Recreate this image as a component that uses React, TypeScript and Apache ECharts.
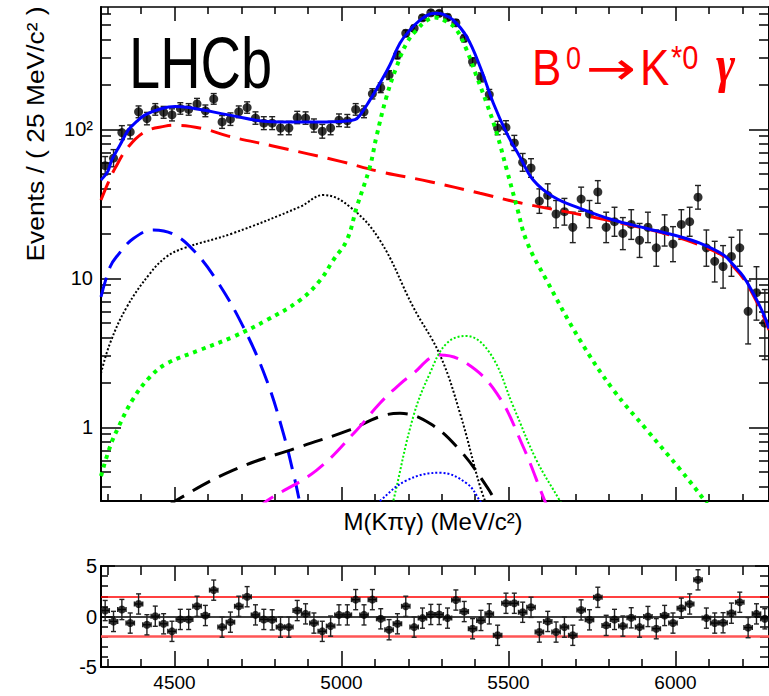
import React, { useEffect, useRef } from "react";
import * as echarts from "echarts";

const FONT = "'Liberation Sans', Arial, Helvetica, sans-serif";

// ---- binned data (25 MeV bins) ----
const binCenters = [
  4292.5, 4317.5, 4342.5, 4367.5, 4392.5, 4417.5, 4442.5, 4467.5, 4492.5, 4517.5,
  4542.5, 4567.5, 4592.5, 4617.5, 4642.5, 4667.5, 4692.5, 4717.5, 4742.5, 4767.5,
  4792.5, 4817.5, 4842.5, 4867.5, 4892.5, 4917.5, 4942.5, 4967.5, 4992.5, 5017.5,
  5042.5, 5067.5, 5092.5, 5117.5, 5142.5, 5167.5, 5192.5, 5217.5, 5242.5, 5267.5,
  5292.5, 5317.5, 5342.5, 5367.5, 5392.5, 5417.5, 5442.5, 5467.5, 5492.5, 5517.5,
  5542.5, 5567.5, 5592.5, 5617.5, 5642.5, 5667.5, 5692.5, 5717.5, 5742.5, 5767.5,
  5792.5, 5817.5, 5842.5, 5867.5, 5892.5, 5917.5, 5942.5, 5967.5, 5992.5, 6017.5,
  6042.5, 6067.5, 6092.5, 6117.5, 6142.5, 6167.5, 6192.5, 6217.5, 6242.5, 6267.5,
];

const eventCounts = [
  57, 64, 95, 96, 131, 118, 136, 130, 125, 138,
  136, 148, 133, 160, 112, 117, 131, 140, 119, 110,
  110, 102, 102, 120, 119, 106, 97, 102, 115, 114,
  136, 131, 173, 190, 231, 315, 441, 476, 560, 605,
  600, 565, 519, 408, 284, 223, 171, 102, 103, 81,
  60, 55, 33, 36, 27, 28, 22, 34, 27, 38,
  22, 24, 20, 23, 18, 22, 16, 21, 17, 23,
  24, 35, 16, 13, 12, 14, 16, 6, 8, 5,
];

const pulls = [
  0.59, -0.49, 0.69, -0.65, 1.24, -0.82, 0.03, -0.72, -1.47, -0.29,
  -0.29, 1.01, 0.1, 2.61, -1.05, -0.56, 1.01, 1.96, 0.16, -0.29,
  -0.33, -1.05, -1.05, 0.59, 0.26, -0.65, -1.47, -0.95, 0.16, 0.16,
  1.67, 0.16, 1.67, -0.23, -1.31, -0.72, 1.01, -1.05, -0.16, 0.2,
  0.2, -0.16, 1.63, 0.49, -1.21, -0.39, 0.26, -1.86, 1.31, 1.31,
  0.42, 0.91, -1.54, -0.49, -1.54, -1.05, -1.86, 0.65, -0.33, 1.9,
  -0.88, -0.29, -0.95, -0.13, -1.05, 0.0, -1.21, 0.1, -0.65, 0.82,
  1.24, 3.63, -0.16, -0.65, -0.62, 0.33, 1.41, -1.1, 0.26, -0.23,
];

// ---- fit curves ----
const totalFitMass = [4280, 4300, 4312, 4337, 4362, 4387, 4412, 4462, 4502, 4561, 4661, 4791, 4900, 5000, 5040, 5055, 5085, 5115, 5145, 5175, 5205, 5235, 5265, 5285, 5305, 5335, 5375, 5415, 5455, 5495, 5534, 5574, 5634, 5714, 5814, 5914, 6014, 6073, 6143, 6173, 6203, 6233, 6263, 6280];
const totalFitValue = [45.7, 52, 62, 78.5, 99, 113, 125, 138, 142, 138, 125, 112.5, 112, 113, 116, 124, 157, 204, 270, 378, 464, 541, 594, 602, 590, 541, 418, 263, 149, 94, 65.5, 45.7, 35.3, 29.5, 24.6, 21.6, 19.0, 17.2, 14.4, 12.3, 10.3, 7.9, 5.8, 4.6];

const combBkgMass = [4280, 4300, 4322, 4362, 4412, 4472, 4502, 4581, 4661, 4791, 4900, 5000, 5115, 5265, 5415, 5534, 5743, 5963, 6073, 6143, 6173, 6203, 6233, 6263, 6280];
const combBkgValue = [33.5, 43, 54.7, 76.4, 96.4, 105, 106.4, 101.6, 90, 77.6, 68.4, 60.7, 52, 44.5, 37.2, 32.1, 26, 20.1, 16.7, 14.1, 12.0, 10.0, 7.7, 5.6, 4.5];

const signalMass = [4280, 4307, 4332, 4377, 4427, 4477, 4576, 4676, 4776, 4876, 4936, 4975, 5016, 5046, 5085, 5105, 5135, 5165, 5195, 5225, 5255, 5280, 5315, 5345, 5375, 5405, 5435, 5465, 5495, 5525, 5555, 5614, 5714, 5814, 5914, 6014, 6088, 6150];
const signalValue = [0.47, 0.74, 1.0, 1.56, 2.18, 2.68, 3.3, 4.05, 5.24, 7.14, 9.7, 13.2, 18.0, 30.2, 56, 90, 166, 263, 378, 464, 536, 562, 527, 464, 340, 225, 149, 94, 53.4, 30.2, 17.6, 9.7, 3.85, 1.78, 0.96, 0.52, 0.32, 0.2];

const partRecoMass = [4280, 4307, 4357, 4427, 4477, 4527, 4676, 4876, 4946, 5025, 5115, 5215, 5295, 5355, 5415, 5440];
const partRecoValue = [2.3, 3.66, 6.4, 10.8, 14.0, 15.9, 20.1, 30.2, 36.2, 30.2, 18.0, 6.4, 3.05, 1.24, 0.4, 0.28];

const lowMassMass = [4280, 4307, 4327, 4377, 4437, 4496, 4556, 4626, 4706, 4776, 4826, 4856, 4874, 4890];
const lowMassValue = [7.5, 11.9, 14.0, 18.5, 21.1, 19.8, 15.5, 9.7, 4.72, 2.07, 0.91, 0.49, 0.32, 0.2];

const blackDashMass = [4480, 4502, 4676, 4876, 5025, 5115, 5175, 5265, 5355, 5435, 5460, 5475];
const blackDashValue = [0.29, 0.32, 0.516, 0.74, 0.96, 1.18, 1.24, 1.06, 0.7, 0.4, 0.32, 0.27];

const magentaMass = [4750, 4776, 4926, 5046, 5115, 5175, 5205, 5295, 5375, 5465, 5544, 5609, 5625];
const magentaValue = [0.28, 0.32, 0.516, 0.96, 1.45, 1.95, 2.2, 3.05, 2.68, 1.69, 0.74, 0.32, 0.27];

const greenThinMass = [5145, 5155, 5215, 5265, 5315, 5373, 5445, 5515, 5584, 5654, 5670];
const greenThinValue = [0.27, 0.32, 1.18, 2.31, 3.66, 4.1, 3.13, 1.37, 0.6, 0.32, 0.27];

const blueDotMass = [5100, 5115, 5195, 5295, 5375, 5415, 5425];
const blueDotValue = [0.29, 0.32, 0.44, 0.495, 0.42, 0.32, 0.29];

// ---- ticks ----
const xMajorTicks = [4500, 5000, 5500, 6000];
const xMinorTicks = [4300, 4400, 4600, 4700, 4800, 4900, 5100, 5200, 5300, 5400, 5600, 5700, 5800, 5900, 6100, 6200];
const yMajorTicks = [1, 10, 100];
const yMinorTicks = [0.4, 0.5, 0.6, 0.7, 0.8, 0.9, 2, 3, 4, 5, 6, 7, 8, 9, 20, 30, 40, 50, 60, 70, 80, 90, 200, 300, 400, 500, 600];
const pullMajorTicks = [-5, 0, 5];
const pullMinorTicks = [-4, -3, -2, -1, 1, 2, 3, 4];
const pullBands = [-2, 2];

const MASS_MIN = 4280;
const MASS_MAX = 6280;
const BIN_HALF = 12.5;

const poissonHigh = (n: number) => n + 1 + Math.sqrt(n + 0.75);
const poissonLow = (n: number) => n * Math.pow(1 - 1 / (9 * n) - 1 / (3 * Math.sqrt(n)), 3);

function massAxis(gridIndex: number, position: string, ticks: number[], length: number, showLine: boolean, lineWidth: number, label?: any) {
  return {
    type: "value",
    gridIndex,
    position,
    min: MASS_MIN,
    max: MASS_MAX,
    axisLine: { show: showLine, onZero: false, lineStyle: { color: "#000", width: lineWidth } },
    axisTick: { show: true, inside: true, length, customValues: ticks, lineStyle: { color: "#000", width: 1.5 } },
    axisLabel: label ? label : { show: false },
    splitLine: { show: false },
  };
}

function logAxis(position: string, ticks: number[], length: number, showLine: boolean, label?: any) {
  return {
    type: "log",
    logBase: 10,
    gridIndex: 0,
    position,
    min: 0.32,
    max: 662,
    axisLine: { show: showLine, onZero: false, lineStyle: { color: "#000", width: 2 } },
    axisTick: { show: true, inside: true, length, customValues: ticks, lineStyle: { color: "#000", width: 1.5 } },
    axisLabel: label ? label : { show: false },
    splitLine: { show: false },
  };
}

function pullAxis(position: string, ticks: number[], length: number, showLine: boolean, label?: any) {
  return {
    type: "value",
    gridIndex: 1,
    position,
    min: -5,
    max: 5,
    axisLine: { show: showLine, onZero: false, lineStyle: { color: "#000", width: 2 } },
    axisTick: { show: true, inside: true, length, customValues: ticks, lineStyle: { color: "#000", width: 1.5 } },
    axisLabel: label ? label : { show: false },
    splitLine: { show: false },
  };
}

function curve(name: string, xs: number[], ys: number[], color: string, width: number, dash: any, z: number) {
  return {
    type: "line",
    name,
    xAxisIndex: 0,
    yAxisIndex: 0,
    data: xs.map((x, i) => [x, ys[i]]),
    showSymbol: false,
    symbol: "none",
    smooth: 0.4,
    clip: true,
    silent: true,
    z,
    lineStyle: { color, width, type: dash, cap: "butt" },
  };
}

const barStyle = { stroke: "#222", lineWidth: 1.4 };

const txt = (text: string, fill: string, fontSize: number, extra: any = {}) => ({
  text,
  fill,
  fontSize,
  fontFamily: FONT,
  textAlign: "left",
  textVerticalAlign: "middle",
  align: "left",
  verticalAlign: "middle",
  ...extra,
});

export default function App() {
  const ref = useRef<HTMLDivElement>(null);

  useEffect(() => {
    if (!ref.current) return;
    const chart = echarts.init(ref.current, undefined, { renderer: "svg" });

    const option: any = {
      animation: false,
      textStyle: { fontFamily: FONT },
      grid: [
        { left: 101, top: 7, right: 0, height: 494, outerBoundsMode: "none" },
        { left: 101, top: 566, right: 0, height: 101, outerBoundsMode: "none" },
      ],
      xAxis: [
        massAxis(0, "bottom", xMajorTicks, 14, true, 2),
        massAxis(0, "bottom", xMinorTicks, 7, false, 2),
        massAxis(0, "top", xMajorTicks, 14, true, 1.5),
        massAxis(0, "top", xMinorTicks, 7, false, 1.5),
        massAxis(1, "bottom", xMajorTicks, 16, true, 2, {
          show: true,
          customValues: xMajorTicks,
          formatter: (v: number) => String(v),
          color: "#000",
          fontSize: 19,
          fontFamily: FONT,
          margin: 6,
        }),
        massAxis(1, "bottom", xMinorTicks, 8, false, 2),
        massAxis(1, "top", xMajorTicks, 15, true, 1.5),
        massAxis(1, "top", xMinorTicks, 9, false, 1.5),
      ],
      yAxis: [
        logAxis("left", yMajorTicks, 20, true, {
          show: true,
          customValues: yMajorTicks,
          formatter: (v: number) => (v >= 100 ? "10²" : String(v)),
          color: "#000",
          fontSize: 20,
          fontFamily: FONT,
          margin: 8,
        }),
        logAxis("left", yMinorTicks, 10, false),
        logAxis("right", yMajorTicks, 20, true),
        logAxis("right", yMinorTicks, 10, false),
        pullAxis("left", pullMajorTicks, 14, true, {
          show: true,
          customValues: pullMajorTicks,
          formatter: (v: number) => String(v),
          color: "#000",
          fontSize: 20,
          fontFamily: FONT,
          margin: 4,
        }),
        pullAxis("left", pullMinorTicks, 7, false),
        pullAxis("right", pullMajorTicks, 14, true),
        pullAxis("right", pullMinorTicks, 9, false),
      ],
      series: [
        {
          type: "custom",
          name: "data errors",
          xAxisIndex: 0,
          yAxisIndex: 0,
          clip: true,
          silent: true,
          z: 2,
          encode: { x: 0, y: 1 },
          data: binCenters.map((x, i) => [x, eventCounts[i], poissonLow(eventCounts[i]), poissonHigh(eventCounts[i])]),
          renderItem: (params: any, api: any) => {
            const x = api.value(0);
            const lo = api.coord([x, api.value(2)]);
            const hi = api.coord([x, api.value(3)]);
            const c = 3;
            return {
              type: "group",
              children: [
                { type: "line", shape: { x1: lo[0], y1: lo[1], x2: hi[0], y2: hi[1] }, style: barStyle },
                { type: "line", shape: { x1: lo[0] - c, y1: lo[1], x2: lo[0] + c, y2: lo[1] }, style: barStyle },
                { type: "line", shape: { x1: hi[0] - c, y1: hi[1], x2: hi[0] + c, y2: hi[1] }, style: barStyle },
              ],
            };
          },
        },
        {
          type: "scatter",
          name: "data",
          xAxisIndex: 0,
          yAxisIndex: 0,
          symbol: "circle",
          symbolSize: 9,
          itemStyle: { color: "#000" },
          silent: true,
          z: 3,
          data: binCenters.map((x, i) => [x, eventCounts[i]]),
        },
        curve("combinatorial", combBkgMass, combBkgValue, "#ff0000", 3, [20, 10], 4),
        curve("partially reconstructed", partRecoMass, partRecoValue, "#000000", 2, [2, 2], 4),
        curve("low mass", lowMassMass, lowMassValue, "#0000ff", 3, [20, 10], 4),
        curve("black dashed", blackDashMass, blackDashValue, "#000000", 3, [20, 10], 4),
        curve("magenta dashed", magentaMass, magentaValue, "#ff00ff", 3, [20, 10], 4),
        curve("green dotted", greenThinMass, greenThinValue, "#00ee00", 2, [2, 2], 4),
        curve("blue dotted", blueDotMass, blueDotValue, "#0000ff", 2, [2, 2], 4),
        curve("signal", signalMass, signalValue, "#00ff00", 4, [4, 5], 5),
        curve("total fit", totalFitMass, totalFitValue, "#0000ff", 3, "solid", 6),
        {
          type: "custom",
          name: "pull errors",
          xAxisIndex: 4,
          yAxisIndex: 4,
          clip: true,
          silent: true,
          z: 3,
          encode: { x: 0, y: 1 },
          data: binCenters.map((x, i) => [x, pulls[i]]),
          renderItem: (params: any, api: any) => {
            const x = api.value(0);
            const p = api.value(1);
            const lo = api.coord([x, p - 1]);
            const hi = api.coord([x, p + 1]);
            const l = api.coord([x - BIN_HALF, p]);
            const r = api.coord([x + BIN_HALF, p]);
            const c = 2.5;
            return {
              type: "group",
              children: [
                { type: "line", shape: { x1: lo[0], y1: lo[1], x2: hi[0], y2: hi[1] }, style: barStyle },
                { type: "line", shape: { x1: lo[0] - c, y1: lo[1], x2: lo[0] + c, y2: lo[1] }, style: barStyle },
                { type: "line", shape: { x1: hi[0] - c, y1: hi[1], x2: hi[0] + c, y2: hi[1] }, style: barStyle },
                { type: "line", shape: { x1: l[0], y1: l[1], x2: r[0], y2: r[1] }, style: barStyle },
                { type: "line", shape: { x1: l[0], y1: l[1] - c, x2: l[0], y2: l[1] + c }, style: barStyle },
                { type: "line", shape: { x1: r[0], y1: r[1] - c, x2: r[0], y2: r[1] + c }, style: barStyle },
              ],
            };
          },
          markLine: {
            silent: true,
            symbol: "none",
            label: { show: false },
            z: 1,
            data: [
              { yAxis: 0, lineStyle: { color: "#000", width: 1.5, type: "solid" } },
              { yAxis: pullBands[1], lineStyle: { color: "#ff0000", width: 1.5, type: "solid" } },
              { yAxis: pullBands[0], lineStyle: { color: "#ff5555", width: 2.5, type: "solid" } },
            ],
          },
        },
        {
          type: "scatter",
          name: "pulls",
          xAxisIndex: 4,
          yAxisIndex: 4,
          symbol: "circle",
          symbolSize: 8,
          itemStyle: { color: "#000" },
          silent: true,
          z: 4,
          data: binCenters.map((x, i) => [x, pulls[i]]),
        },
      ],
      graphic: [
        { type: "text", x: 129, y: 62.8, scaleY: 1.3, style: txt("LHCb", "#000", 56) },
        { type: "text", x: 532, y: 67.5, scaleY: 1.15, style: txt("B", "#ff0000", 44) },
        { type: "text", x: 566, y: 58.2, scaleY: 1.15, style: txt("0", "#ff0000", 27) },
        {
          type: "text",
          x: 586,
          y: 68,
          scaleX: 1.5,
          scaleY: 1.15,
          style: txt("→", "#ff0000", 40, { fontFamily: "'DejaVu Sans', sans-serif" }),
        },
        { type: "text", x: 640, y: 67.5, scaleY: 1.15, style: txt("K", "#ff0000", 44) },
        { type: "text", x: 671, y: 57.4, scaleY: 1.15, style: txt("*0", "#ff0000", 29) },
        {
          type: "text",
          x: 716,
          y: 64,
          scaleY: 1.15,
          style: txt("γ", "#ff0000", 46, {
            fontFamily: "'Liberation Serif', 'DejaVu Serif', serif",
            fontStyle: "italic",
            fontWeight: "bold",
          }),
        },
        {
          type: "text",
          x: 35,
          y: 134,
          rotation: Math.PI / 2,
          scaleX: 1.1,
          style: txt("Events / ( 25 MeV/c² )", "#000", 24, { textAlign: "center", align: "center" }),
        },
        {
          type: "text",
          x: 433,
          y: 521.5,
          style: txt("M(Kπγ) (MeV/c²)", "#000", 24, { textAlign: "center", align: "center" }),
        },
      ],
    };

    chart.setOption(option);
    return () => {
      chart.dispose();
    };
  }, []);

  return (
    <div
      ref={ref}
      style={{ position: "fixed", left: 0, top: 0, width: 769, height: 696, background: "#fff" }}
    />
  );
}
